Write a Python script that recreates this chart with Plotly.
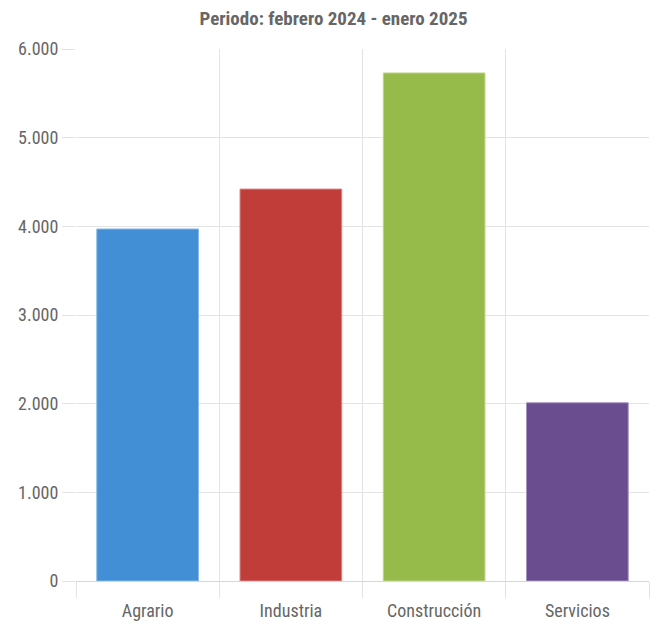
import plotly.graph_objects as go

categorias = ["Agrario", "Industria", "Construcción", "Servicios"]
valores = [3970, 4420, 5730, 2010]
colores = ["#428fd6", "#c13d3a", "#97bb4b", "#6a4d8f"]
bordes = ["#8ab8e6", "#d98583", "#c0d78f", "#a794c0"]
y_ticks = [0, 1000, 2000, 3000, 4000, 5000, 6000]

FUENTE = "Roboto Condensed, Roboto, sans-serif"

fig = go.Figure(go.Bar(
    x=categorias,
    y=valores,
    marker=dict(color=colores, line=dict(color=bordes, width=1)),
    width=0.71,
    hoverinfo="x+y",
))

# la página añade 8 px de margen al body, así que el lienzo es algo menor
fig.update_layout(
    width=651,
    height=625,
    separators=",.",
    title=dict(
        text="<b>Periodo: febrero 2024 - enero 2025</b>",
        x=0.5,
        xanchor="center",
        y=0.984,
        yanchor="middle",
        font=dict(family=FUENTE, size=19, color="#666666"),
    ),
    font=dict(family=FUENTE, size=18, color="#666666"),
    margin=dict(l=68, r=10, t=41, b=52),
    paper_bgcolor="white",
    plot_bgcolor="white",
    showlegend=False,
    xaxis=dict(
        tickson="boundaries",
        showgrid=True,
        gridcolor="#e3e3e3",
        gridwidth=1,
        ticks="outside",
        ticklen=16,
        tickcolor="#e3e3e3",
        ticklabelstandoff=17,
        automargin=False,
        showline=False,
        zeroline=False,
        tickfont=dict(size=18, color="#666666"),
    ),
    yaxis=dict(
        range=[0, 6000],
        tickvals=y_ticks,
        tickformat=",d",
        showgrid=True,
        gridcolor="#e3e3e3",
        gridwidth=1,
        ticks="outside",
        ticklen=13,
        tickcolor="#e3e3e3",
        automargin=False,
        zeroline=True,
        zerolinecolor="#d6d6d6",
        zerolinewidth=1,
        showline=False,
        tickfont=dict(size=18, color="#666666"),
    ),
)

fig.write_html("out.html")
